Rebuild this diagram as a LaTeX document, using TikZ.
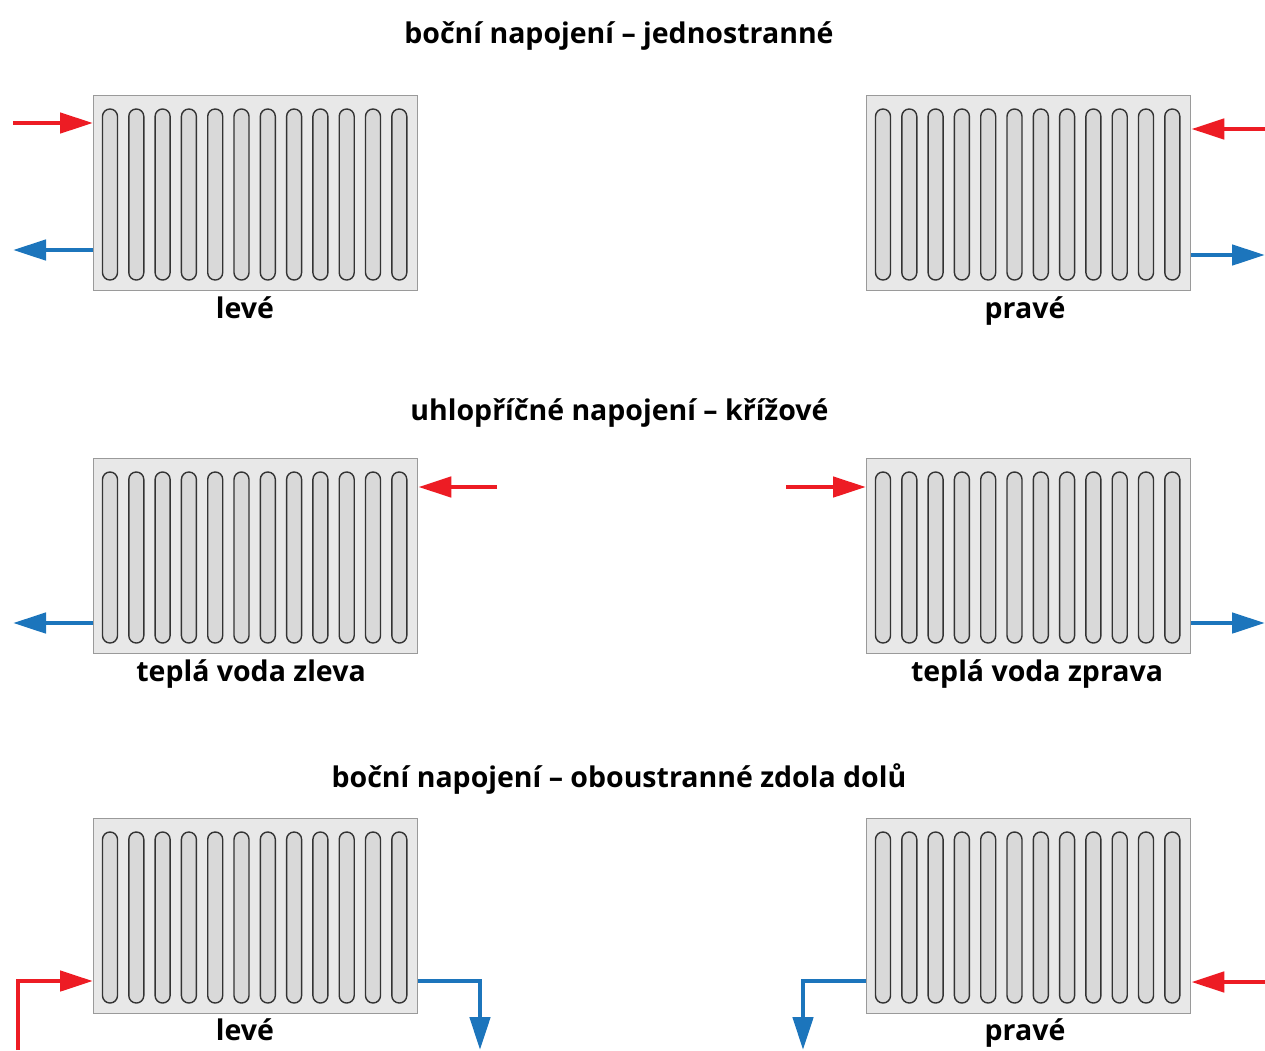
\documentclass[tikz,border=0pt]{standalone}
\usepackage{fontspec}
\setmainfont{Open Sans}
\usetikzlibrary{arrows.meta}
\definecolor{pipe-red}{HTML}{ED1C24}
\definecolor{pipe-blue}{HTML}{1C75BC}
\definecolor{panel-fill}{HTML}{E8E8E8}
\definecolor{panel-edge}{HTML}{9A9A9A}
\definecolor{fin-fill}{HTML}{D9D9D9}
\definecolor{fin-edge}{HTML}{333333}

\begin{document}
\begin{tikzpicture}[
    x=1pt, y=-1pt,
    font=\bfseries\fontsize{28.5}{34}\selectfont,
    radiator/.style={draw=panel-edge, fill=panel-fill, line width=1.3pt, minimum width=324pt, minimum height=195pt, inner sep=0pt, anchor=north west},
    fin/.style={draw=fin-edge, fill=fin-fill, line width=1.4pt, rounded corners=7.4pt},
    hot/.style={-{Triangle[length=33pt, width=20pt]}, line width=4.8pt, draw=pipe-red},
    cold/.style={-{Triangle[length=33pt, width=20pt]}, line width=4.8pt, draw=pipe-blue}
]
\useasboundingbox (0,0) rectangle (1265,1050);

% panels with their twelve fins
\foreach \name/\x/\y in {rl1/93/95, rr1/866/95, rl2/93/458, rr2/866/458, rl3/93/818, rr3/866/818} {
    \node[radiator] (\name) at (\x,\y) {};
    \foreach \i in {0,...,11}
        \draw[fin] (\x+9.5+26.3*\i, \y+14) rectangle ++(15,171);
}

% headings
\node[anchor=base] (head1) at (619,43) {boční napojení – jednostranné};
\node[anchor=base] (head2) at (619.5,420) {uhlopříčné napojení – křížové};
\node[anchor=base] (head3) at (619,787) {boční napojení – oboustranné zdola dolů};

% captions under the panels
\node[anchor=base] (cap1l) at (245,318) {levé};
\node[anchor=base] (cap1r) at (1025,318) {pravé};
\node[anchor=base] (cap2l) at (251,681) {teplá voda zleva};
\node[anchor=base] (cap2r) at (1037,681) {teplá voda zprava};
\node[anchor=base] (cap3l) at (245,1040) {levé};
\node[anchor=base] (cap3r) at (1025,1040) {pravé};

% one-sided
\coordinate (hl1) at (13,123);
\coordinate (cl1) at (13,250);
\draw[hot] (hl1) -- (hl1 -| rl1.west);
\draw[cold] (cl1 -| rl1.west) -- (cl1);
\coordinate (hr1) at (1265,129);
\coordinate (cr1) at (1265,255);
\draw[hot] (hr1) -- (hr1 -| rr1.east);
\draw[cold] (cr1 -| rr1.east) -- (cr1);

% diagonal
\coordinate (hl2) at (497,487);
\coordinate (cl2) at (13,623);
\draw[hot] (hl2) -- (hl2 -| rl2.east);
\draw[cold] (cl2 -| rl2.west) -- (cl2);
\coordinate (hr2) at (786,487);
\coordinate (cr2) at (1265,623);
\draw[hot] (hr2) -- (hr2 -| rr2.west);
\draw[cold] (cr2 -| rr2.east) -- (cr2);

% both sides, bottom to bottom
\coordinate (hl3) at (18,1050);
\coordinate (jl3) at (18,981);
\coordinate (cl3) at (480,981);
\coordinate (el3) at (480,1050);
\draw[hot] (hl3) -- (jl3) -- (jl3 -| rl3.west);
\draw[cold] (cl3 -| rl3.east) -- (cl3) -- (el3);
\coordinate (hr3) at (1265,982);
\coordinate (cr3) at (803,981);
\coordinate (er3) at (803,1050);
\draw[hot] (hr3) -- (hr3 -| rr3.east);
\draw[cold] (cr3 -| rr3.west) -- (cr3) -- (er3);
\end{tikzpicture}
\end{document}
